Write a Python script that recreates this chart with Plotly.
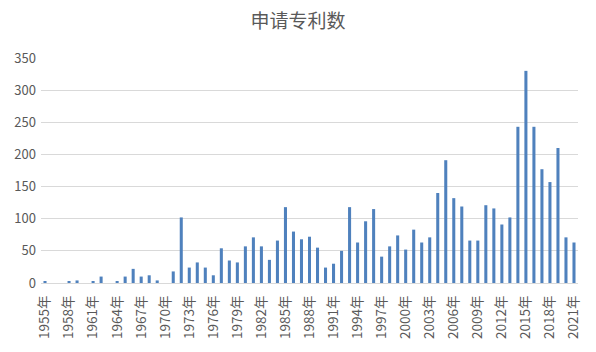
import plotly.graph_objects as go

years = list(range(1955, 2022))
values = [2, 0, 0, 2, 4, 0, 2, 10, 0, 2, 10, 22, 10, 12, 4, 0, 18, 102, 24, 32,
          24, 12, 54, 35, 32, 57, 71, 57, 36, 66, 118, 80, 68, 72, 55, 24, 30, 50,
          118, 63, 96, 115, 41, 57, 74, 52, 83, 63, 71, 140, 191, 132, 119, 66, 66,
          121, 116, 91, 102, 243, 330, 243, 177, 157, 210, 71, 63]
categories = [f"{y}年" for y in years]
tick_labels = categories[::3]

font_family = "Noto Sans CJK SC, Liberation Sans, sans-serif"

fig = go.Figure(go.Bar(
    x=categories, y=values,
    marker=dict(color="#4f81bd", line=dict(width=0)),
))

fig.update_layout(
    width=596, height=352,
    margin=dict(l=41, r=18, t=58, b=69),
    paper_bgcolor="white", plot_bgcolor="white",
    bargap=0.62,
    showlegend=False,
    title=dict(text="申请专利数", x=0.5, xanchor="center", y=0.94, yanchor="middle",
               font=dict(family=font_family, size=19, color="#595959")),
    font=dict(family=font_family, color="#595959", size=12),
)
fig.update_xaxes(
    type="category", tickmode="array", tickvals=tick_labels, ticktext=tick_labels,
    tickangle=-90, showgrid=False, showline=True, linecolor="#d9d9d9", linewidth=1,
    ticks="", ticklabelstandoff=6, tickfont=dict(size=13.5, color="#595959"),
)
fig.update_yaxes(
    range=[0, 350], dtick=50, showgrid=True, gridcolor="#d9d9d9", gridwidth=1,
    zeroline=False, showline=False, ticks="", ticklabelstandoff=4,
    tickfont=dict(size=13, color="#595959"),
)

fig.write_html("out.html")
